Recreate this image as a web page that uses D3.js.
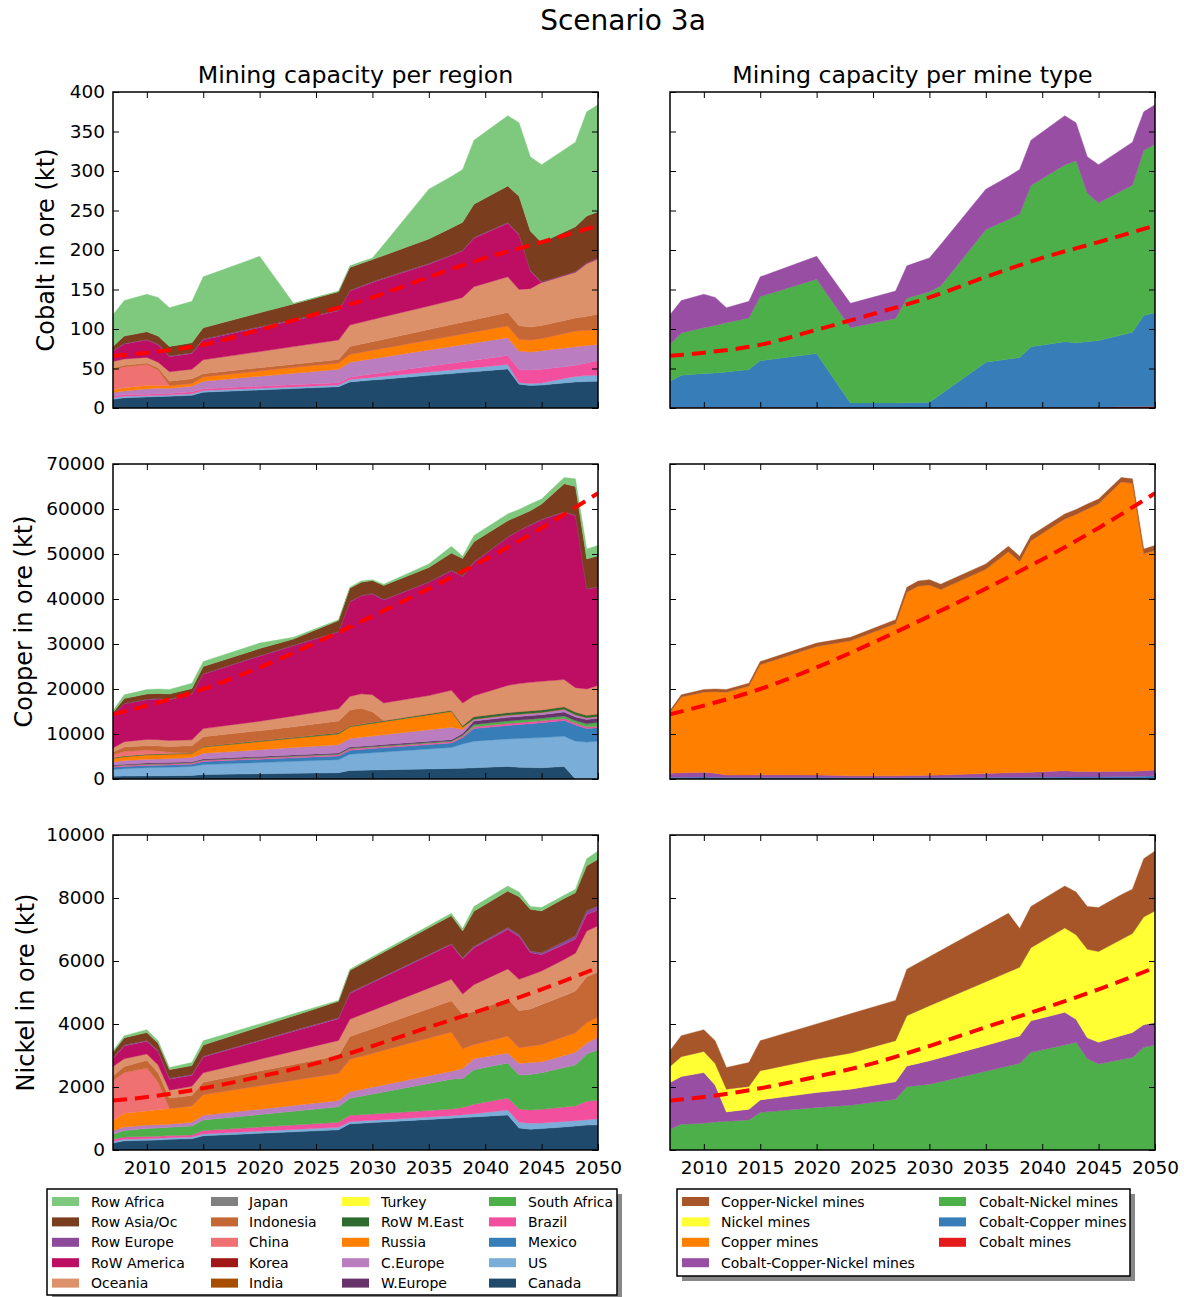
<!DOCTYPE html>
<html>
<head>
<meta charset="utf-8">
<script src="https://cdn.jsdelivr.net/npm/d3@7"></script>
<style>
  body { margin: 0; background: #ffffff; }
  text { font-family: "DejaVu Sans", sans-serif; fill: #000; }
</style>
</head>
<body>
<svg id="chart" width="1184" height="1297"></svg>
<script>
// ---------------------------------------------------------------
// Data: mining capacity (kt of metal in ore), scenario 3a
// ---------------------------------------------------------------
const years = [2007, 2008, 2010, 2011, 2012, 2014, 2015, 2020, 2023, 2027, 2028, 2029, 2030,
               2031, 2035, 2037, 2038, 2039, 2042, 2043, 2044, 2045, 2047, 2048, 2049, 2050];

// Stacking order, bottom to top
const regions = ["Canada", "US", "Mexico", "Brazil", "South Africa", "W.Europe", "C.Europe", "Russia",
                 "RoW M.East", "Turkey", "India", "Korea", "China", "Indonesia", "Japan", "Oceania",
                 "RoW America", "Row Europe", "Row Asia/Oc", "Row Africa"];
const regionColors = ["#204a6b", "#7aaed8", "#377eb8", "#f24f9f", "#4daf4a", "#66336a", "#b97dc0", "#ff7f00",
                      "#2f6b30", "#ffff33", "#a64d00", "#a11616", "#ef7171", "#c66835", "#808080", "#dc916a",
                      "#be0e63", "#8e4a9a", "#7a3d1e", "#7fc97f"];

const mineTypes = ["Cobalt mines", "Cobalt-Copper mines", "Cobalt-Nickel mines", "Cobalt-Copper-Nickel mines",
                   "Copper mines", "Nickel mines", "Copper-Nickel mines"];
const mineColors = ["#e41a1c", "#377eb8", "#4daf4a", "#984ea3", "#ff7f00", "#ffff33", "#a65628"];

// Cobalt, per region
const cobaltCanada      = [11, 13, 14, 14.5, 15, 16, 20, 22.9, 24.7, 27, 33, 34.2, 35.4, 36.5, 41.3, 43.6, 44.8, 46, 49.5, 30, 28.5, 29, 31.7, 33, 33.5, 34];
const cobaltUS          = [2, 2, 1.5, 1.5, 1.5, 2, 2, 2, 2, 2, 3, 3.2, 3.3, 3.6, 4.2, 4.6, 4.8, 4.9, 5.5, 2, 2.5, 2.5, 5.5, 7, 7.5, 7.5];
const cobaltBrazil      = [2, 2, 2, 2, 2, 2.5, 2.5, 2.7, 2.8, 3, 3, 3.6, 4.2, 4.8, 7.2, 8.5, 9, 9.7, 11.5, 16.7, 17, 17.5, 15.1, 14, 16, 18.5];
const cobaltCEurope     = [4.5, 4.5, 7, 7, 6.5, 7, 9.5, 12.7, 14.5, 17, 19, 19.2, 19.5, 19.7, 20.8, 21.2, 21.5, 21.8, 22.5, 23.3, 23, 23.5, 23.5, 23.5, 22, 20.5];
const cobaltRussia      = [3.5, 4, 4, 3.5, 3.5, 3.5, 5.5, 6.7, 7.5, 8, 10, 10.4, 10.7, 11.1, 12.5, 13.2, 13.6, 13.9, 15, 15, 15, 15.5, 18.5, 20, 19.5, 19.1];
const cobaltChina       = [25.5, 26.5, 26.5, 19.5, 0, 0, 0, 0, 0, 0, 0, 0, 0, 0, 0, 0, 0, 0, 0, 0, 0, 0, 0, 0, 0, 0];
const cobaltIndonesia   = [2, 2, 2, 3, 5.5, 6, 4, 4, 4, 4.5, 10, 10.4, 10.9, 11.3, 13.5, 14.5, 15, 15.5, 17, 17, 16.5, 16.5, 16.5, 16.5, 17.5, 19];
const cobaltOceania     = [8.5, 8, 7, 7, 12, 12, 17.5, 20.4, 22.2, 24.5, 27, 27.5, 28, 28.5, 29.5, 30.4, 31.3, 41.8, 45, 46, 48.5, 54.5, 56.9, 58, 67, 70.4];
const cobaltRoWAmerica  = [13, 19, 22, 22, 19, 20, 25.5, 30.6, 33.1, 37, 43, 45, 47, 48.1, 53, 57, 59, 61.4, 68, 69, 22.5, 0, 0, 0, 0, 0];
const cobaltRowEurope   = [0.8, 0.8, 0.8, 0.8, 0.8, 0.8, 0.8, 0.8, 0.8, 0.8, 0.8, 0.8, 0.8, 0.8, 0.8, 0.8, 0.8, 0.8, 0.8, 0.8, 0.8, 0.8, 0.8, 0.8, 0.8, 0.8];
const cobaltRowAsia     = [5.2, 9.2, 9.7, 10.2, 12.2, 12.7, 14.2, 17.7, 20.2, 23.2, 29.2, 28.7, 28.2, 28.6, 31.2, 34.2, 35.2, 42.2, 46.2, 48.2, 49.7, 49.7, 54.3, 56.6, 59.2, 58.7];
const cobaltRowAfrica   = [40, 45, 47.5, 49, 49, 52.5, 64.5, 71.5, 0.7, 1, 2, 2, 2, 14, 63, 65, 67, 81, 89, 93, 94, 98.5, 104.2, 107.1, 132, 135.5];

// Cobalt, per mine type
const cobaltMinesCo     = [1, 1, 1, 1, 1, 1, 1, 1, 0.3, 0.3, 0.3, 0.3, 0.3, 0.5, 1, 1, 1, 1, 1, 1, 1, 1, 1.5, 1.5, 2, 2];
const cobaltMinesCoCu   = [33, 40.5, 42.6, 43.4, 44.7, 47.7, 59, 68, 6, 6, 6.5, 6.7, 6.9, 16.9, 57, 61, 63, 76.5, 83, 81.5, 83, 84.5, 91, 94.5, 115, 118.6];
const cobaltMinesCoNi   = [46.4, 53.5, 58, 60.1, 62.3, 65.3, 81, 94, 95.3, 107.1, 132.2, 136, 139.8, 137.1, 167.6, 176.7, 181.5, 204, 223.7, 230.5, 187.7, 174, 182.2, 186, 209, 213.4];
const cobaltMinesCoCuNi = [37.6, 41, 42.4, 35.5, 19, 21, 25, 29, 30.9, 34.6, 41, 42, 43, 52.5, 51.4, 54.3, 56.5, 57.5, 62.3, 48, 46.3, 48.5, 52.3, 54.5, 49, 50];

// Copper, per region
const copperCanada      = [600, 650, 700, 720, 740, 780, 1000, 1170, 1270, 1400, 1900, 1950, 2000, 2050, 2250, 2350, 2400, 2500, 2800, 2600, 2550, 2500, 2800, 0, 0, 0];
const copperUS          = [1500, 1650, 1800, 1830, 1860, 2020, 2200, 2490, 2660, 2900, 3600, 3720, 3830, 3950, 4420, 4650, 5400, 5900, 6100, 6400, 6550, 6700, 6700, 8400, 8200, 8400];
const copperMexico      = [500, 500, 500, 500, 500, 500, 700, 740, 770, 800, 900, 910, 930, 930, 970, 1000, 1400, 2800, 3000, 3100, 3200, 3300, 3500, 3600, 3000, 3000];
const copperBrazil      = [250, 250, 250, 250, 250, 250, 250, 270, 280, 300, 300, 300, 300, 300, 300, 300, 300, 400, 450, 450, 450, 450, 450, 450, 400, 300];
const copperSouthAfrica = [100, 100, 100, 100, 100, 100, 100, 120, 140, 150, 150, 150, 150, 150, 150, 150, 200, 500, 550, 550, 550, 550, 550, 550, 700, 900];
const copperWEurope     = [150, 150, 200, 200, 200, 200, 200, 220, 230, 250, 250, 250, 260, 270, 290, 300, 400, 800, 800, 800, 800, 800, 900, 800, 900, 900];
const copperCEurope     = [700, 800, 850, 850, 900, 950, 1300, 1510, 1630, 1800, 1900, 2000, 2090, 2180, 2560, 2750, 900, 400, 500, 500, 500, 500, 600, 500, 400, 400];
const copperRussia      = [750, 850, 950, 950, 950, 850, 1350, 1790, 2050, 2400, 2600, 2700, 2800, 2900, 3300, 3500, 500, 0, 0, 0, 0, 0, 0, 0, 0, 0];
const copperMEast       = [150, 150, 150, 150, 150, 150, 200, 240, 270, 300, 250, 250, 260, 270, 290, 300, 400, 600, 600, 600, 600, 600, 600, 600, 600, 600];
const copperChina       = [700, 1000, 900, 700, 300, 0, 0, 0, 0, 0, 0, 0, 0, 0, 0, 0, 0, 0, 0, 0, 0, 0, 0, 0, 0, 0];
const copperIndonesia   = [600, 1000, 1000, 1100, 1300, 1600, 2100, 2200, 2300, 2600, 3500, 3500, 2300, 0, 0, 0, 0, 0, 0, 0, 0, 0, 0, 0, 0, 0];
const copperOceania     = [900, 1200, 1400, 1400, 1300, 1300, 1800, 2100, 2400, 2700, 3000, 3200, 3800, 3900, 4000, 4400, 5000, 4600, 6000, 6200, 6300, 6300, 6000, 5400, 5800, 6300];
const copperRoWAmerica  = [7200, 8400, 8800, 9050, 9050, 10200, 12100, 14450, 15600, 17100, 20950, 21770, 22380, 22900, 25170, 26600, 28100, 29600, 32900, 34000, 34900, 35900, 37200, 38200, 22200, 21800];
const copperRowEurope   = [100, 100, 100, 100, 100, 100, 100, 100, 100, 100, 100, 100, 100, 100, 100, 100, 100, 100, 100, 100, 100, 100, 100, 100, 100, 100];
const copperRowAsia     = [600, 1100, 1200, 1100, 1200, 1100, 1600, 1600, 1400, 2400, 3000, 2900, 2900, 3100, 3200, 3800, 3900, 4500, 3600, 3200, 3100, 3400, 6200, 6400, 6600, 6900];
const copperRowAfrica   = [400, 800, 1000, 1000, 1000, 1200, 1100, 1200, 400, 200, 200, 300, 200, 300, 800, 1500, 500, 1400, 1500, 1400, 1500, 1100, 1400, 1700, 2200, 2300];

// Copper, per mine type
const copperMinesCoCu   = [400, 400, 450, 400, 350, 350, 350, 350, 300, 300, 350, 350, 350, 350, 400, 400, 400, 400, 450, 450, 450, 450, 500, 500, 600, 700];
const copperMinesCoCuNi = [900, 1000, 1050, 900, 550, 550, 600, 550, 400, 400, 450, 450, 500, 550, 800, 1000, 1050, 1100, 1400, 1200, 1200, 1200, 1250, 1250, 1250, 1300];
const copperMinesCu     = [13500, 16800, 17800, 18100, 18400, 19750, 24450, 28550, 30000, 33800, 40700, 42050, 42250, 41200, 45400, 49100, 46850, 51450, 55950, 57150, 58350, 59500, 64250, 63950, 48250, 48800];
const copperMinesCuNi   = [400, 500, 600, 600, 600, 650, 700, 750, 800, 900, 1100, 1150, 1200, 1200, 1200, 1200, 1200, 1150, 1100, 1100, 1100, 1050, 1000, 1000, 1000, 1100];

// Nickel, per region
const nickelCanada      = [220, 290, 310, 320, 340, 360, 450, 529, 577, 640, 830, 850, 870, 890, 970, 1010, 1030, 1050, 1110, 700, 660, 680, 733, 760, 790, 800];
const nickelUS          = [50, 50, 50, 50, 50, 50, 60, 69, 73, 80, 70, 71, 72, 73, 78, 80, 90, 100, 160, 180, 190, 180, 174, 170, 170, 190];
const nickelBrazil      = [70, 70, 70, 70, 70, 70, 110, 130, 143, 160, 200, 201, 202, 204, 208, 210, 230, 300, 380, 420, 420, 430, 456, 470, 590, 590];
const nickelSouthAfrica = [160, 210, 250, 260, 260, 280, 330, 397, 437, 490, 540, 586, 632, 676, 858, 950, 920, 1100, 1110, 1080, 1130, 1160, 1254, 1300, 1500, 1600];
const nickelCEurope     = [110, 110, 110, 100, 100, 120, 150, 171, 183, 200, 210, 214, 218, 224, 242, 250, 320, 350, 320, 370, 380, 350, 383, 400, 350, 400];
const nickelRussia      = [320, 440, 450, 480, 500, 520, 660, 747, 800, 870, 1030, 1055, 1079, 1103, 1201, 1250, 630, 450, 540, 500, 520, 550, 600, 620, 650, 650];
const nickelChina       = [1270, 1280, 1360, 870, 0, 0, 0, 0, 0, 0, 0, 0, 0, 0, 0, 0, 0, 0, 0, 0, 0, 0, 0, 0, 0, 0];
const nickelIndonesia   = [150, 200, 250, 300, 330, 330, 390, 461, 504, 560, 720, 750, 780, 810, 930, 990, 1080, 1050, 1180, 1170, 1180, 1270, 1300, 1330, 1450, 1420];
const nickelOceania     = [300, 250, 200, 250, 250, 290, 300, 375, 420, 480, 550, 564, 579, 593, 651, 680, 650, 850, 950, 1000, 1070, 1060, 1150, 1200, 1450, 1470];
const nickelRoWAmerica  = [250, 400, 400, 430, 350, 350, 500, 579, 626, 690, 820, 851, 882, 914, 1038, 1100, 1110, 1170, 1250, 1360, 710, 520, 470, 450, 530, 500];
const nickelRowEurope   = [30, 30, 30, 30, 30, 30, 30, 30, 30, 30, 30, 30, 30, 30, 30, 30, 40, 40, 60, 60, 60, 60, 100, 100, 120, 130];
const nickelRowAsia     = [170, 230, 250, 230, 270, 280, 350, 421, 464, 520, 700, 721, 743, 763, 847, 890, 850, 1120, 1160, 1200, 1320, 1330, 1367, 1370, 1420, 1480];
const nickelRowAfrica   = [50, 70, 90, 80, 70, 100, 140, 94, 66, 30, 40, 44, 47, 52, 68, 75, 80, 150, 160, 150, 90, 110, 100, 110, 230, 260];

// Nickel, per mine type
const nickelMinesCoNi   = [660, 820, 850, 890, 910, 955, 1190, 1350, 1420, 1610, 2005, 2050, 2090, 2170, 2500, 2670, 2750, 3100, 3330, 3420, 2900, 2730, 2870, 2940, 3260, 3330];
const nickelMinesCoCuNi = [1480, 1510, 1610, 1170, 300, 335, 400, 475, 510, 555, 665, 700, 740, 760, 820, 850, 870, 1000, 1040, 730, 660, 690, 760, 790, 720, 720];
const nickelMinesNi     = [510, 630, 670, 690, 720, 725, 925, 1060, 1145, 1305, 1595, 1670, 1750, 1800, 2020, 2130, 2180, 2320, 2680, 2680, 2810, 2880, 3050, 3140, 3420, 3540];
const nickelMinesCuNi   = [500, 670, 690, 720, 690, 765, 955, 1118, 1248, 1280, 1475, 1517, 1554, 1602, 1781, 1865, 1230, 1310, 1330, 1360, 1360, 1400, 1420, 1410, 1850, 1900];

// Demand curves (red dashed)
const demandYears   = [2007, 2010, 2015, 2020, 2025, 2030, 2035, 2040, 2045, 2050];
const cobaltDemand  = [66, 70, 80, 99, 119, 140, 166, 190, 210, 231];
const copperDemand  = [14400, 16300, 20000, 24800, 30300, 36200, 42300, 48800, 55800, 63500];
const nickelDemand  = [1570, 1680, 1960, 2330, 2750, 3300, 3900, 4480, 5100, 5790];

// Axis ticks
const xTickYears   = [2010, 2015, 2020, 2025, 2030, 2035, 2040, 2045, 2050];
const cobaltTicks  = [0, 50, 100, 150, 200, 250, 300, 350, 400];
const copperTicks  = [0, 10000, 20000, 30000, 40000, 50000, 60000, 70000];
const nickelTicks  = [0, 2000, 4000, 6000, 8000, 10000];

// ---------------------------------------------------------------
// Series lists (stack order, bottom to top)
// ---------------------------------------------------------------
const cobaltRegionSeries = [
  ["Canada", cobaltCanada], ["US", cobaltUS], ["Brazil", cobaltBrazil], ["C.Europe", cobaltCEurope],
  ["Russia", cobaltRussia], ["China", cobaltChina], ["Indonesia", cobaltIndonesia], ["Oceania", cobaltOceania],
  ["RoW America", cobaltRoWAmerica], ["Row Europe", cobaltRowEurope], ["Row Asia/Oc", cobaltRowAsia],
  ["Row Africa", cobaltRowAfrica]];
const cobaltMineSeries = [
  ["Cobalt mines", cobaltMinesCo], ["Cobalt-Copper mines", cobaltMinesCoCu],
  ["Cobalt-Nickel mines", cobaltMinesCoNi], ["Cobalt-Copper-Nickel mines", cobaltMinesCoCuNi]];

const copperRegionSeries = [
  ["Canada", copperCanada], ["US", copperUS], ["Mexico", copperMexico], ["Brazil", copperBrazil],
  ["South Africa", copperSouthAfrica], ["W.Europe", copperWEurope], ["C.Europe", copperCEurope],
  ["Russia", copperRussia], ["RoW M.East", copperMEast], ["China", copperChina], ["Indonesia", copperIndonesia],
  ["Oceania", copperOceania], ["RoW America", copperRoWAmerica], ["Row Europe", copperRowEurope],
  ["Row Asia/Oc", copperRowAsia], ["Row Africa", copperRowAfrica]];
const copperMineSeries = [
  ["Cobalt-Copper mines", copperMinesCoCu], ["Cobalt-Copper-Nickel mines", copperMinesCoCuNi],
  ["Copper mines", copperMinesCu], ["Copper-Nickel mines", copperMinesCuNi]];

const nickelRegionSeries = [
  ["Canada", nickelCanada], ["US", nickelUS], ["Brazil", nickelBrazil], ["South Africa", nickelSouthAfrica],
  ["C.Europe", nickelCEurope], ["Russia", nickelRussia], ["China", nickelChina], ["Indonesia", nickelIndonesia],
  ["Oceania", nickelOceania], ["RoW America", nickelRoWAmerica], ["Row Europe", nickelRowEurope],
  ["Row Asia/Oc", nickelRowAsia], ["Row Africa", nickelRowAfrica]];
const nickelMineSeries = [
  ["Cobalt-Nickel mines", nickelMinesCoNi], ["Cobalt-Copper-Nickel mines", nickelMinesCoCuNi],
  ["Nickel mines", nickelMinesNi], ["Copper-Nickel mines", nickelMinesCuNi]];

// ---------------------------------------------------------------
// Layout
// ---------------------------------------------------------------
const svg = d3.select("#chart");
const colorOf = {};
regions.forEach((r, i) => colorOf[r] = regionColors[i]);
mineTypes.forEach((m, i) => colorOf[m] = mineColors[i]);

const colLeft  = [113, 598];
const colRight = [670, 1155];
const rowBands = [[92, 408], [464, 779], [835, 1150]];

svg.append("text").attr("x", 623).attr("y", 30).attr("text-anchor", "middle")
   .style("font-size", "28px").text("Scenario 3a");
svg.append("text").attr("x", 355.5).attr("y", 83).attr("text-anchor", "middle")
   .style("font-size", "23.7px").text("Mining capacity per region");
svg.append("text").attr("x", 912.5).attr("y", 83).attr("text-anchor", "middle")
   .style("font-size", "23.7px").text("Mining capacity per mine type");

let clipId = 0;
function drawPanel(cfg) {
  const [x0, x1] = cfg.cols;
  const [yTop, yBot] = cfg.band;
  const x = d3.scaleLinear().domain([2007, 2050]).range([x0, x1]);
  const y = d3.scaleLinear().domain([0, cfg.yMax]).range([yBot, yTop]);
  const g = svg.append("g");

  const id = "clip" + (clipId++);
  svg.append("clipPath").attr("id", id).append("rect")
     .attr("x", x0).attr("y", yTop).attr("width", x1 - x0).attr("height", yBot - yTop);

  const keys = cfg.series.map(s => s[0]);
  const rows = years.map((yr, i) => {
    const r = { year: yr };
    cfg.series.forEach(([k, v]) => r[k] = v[i]);
    return r;
  });
  const stacked = d3.stack().keys(keys)(rows);
  const area = d3.area()
    .x(d => x(d.data.year))
    .y0(d => y(d[0]))
    .y1(d => y(d[1]));

  const plot = g.append("g").attr("clip-path", `url(#${id})`);
  plot.selectAll("path.layer").data(stacked).join("path")
    .attr("class", "layer")
    .attr("d", area)
    .attr("fill", d => colorOf[d.key])
    .attr("stroke", d => colorOf[d.key])
    .attr("stroke-width", 0.4);

  const line = d3.line().x((d, i) => x(demandYears[i])).y(d => y(d)).curve(d3.curveMonotoneX);
  plot.append("path").datum(cfg.demand)
    .attr("d", line).attr("fill", "none")
    .attr("stroke", "#ff0000").attr("stroke-width", 4)
    .attr("stroke-dasharray", "14,8");

  // axes with inward ticks on all four sides
  const fmt = d3.format("d");
  const bottom = d3.axisBottom(x).tickValues(xTickYears).tickSizeInner(-6).tickSizeOuter(0).tickPadding(11)
    .tickFormat(cfg.xLabels ? fmt : () => "");
  const top = d3.axisTop(x).tickValues(xTickYears).tickSizeInner(-6).tickSizeOuter(0).tickFormat(() => "");
  const left = d3.axisLeft(y).tickValues(cfg.yTicks).tickSizeInner(-6).tickSizeOuter(0).tickPadding(8)
    .tickFormat(cfg.yLabels ? fmt : () => "");
  const right = d3.axisRight(y).tickValues(cfg.yTicks).tickSizeInner(-6).tickSizeOuter(0).tickFormat(() => "");

  const axes = [
    g.append("g").attr("transform", `translate(0,${yBot})`).call(bottom),
    g.append("g").attr("transform", `translate(0,${yTop})`).call(top),
    g.append("g").attr("transform", `translate(${x0},0)`).call(left),
    g.append("g").attr("transform", `translate(${x1},0)`).call(right)
  ];
  axes.forEach(a => {
    a.select(".domain").remove();
    a.selectAll(".tick line").attr("stroke", "#000").attr("stroke-width", 1);
    a.selectAll(".tick text").style("font-size", "18.5px").attr("fill", "#000")
      .style("font-family", "'DejaVu Sans', sans-serif");
  });

  g.append("rect").attr("x", x0).attr("y", yTop).attr("width", x1 - x0).attr("height", yBot - yTop)
    .attr("fill", "none").attr("stroke", "#000").attr("stroke-width", 1.5);

  if (cfg.ylabel) {
    const cy = (yTop + yBot) / 2;
    g.append("text").attr("transform", `translate(${cfg.ylabelX},${cy}) rotate(-90)`)
      .attr("text-anchor", "middle").attr("dy", "0.35em")
      .style("font-size", "24px").text(cfg.ylabel);
  }
}

const metals = [
  { name: "Cobalt in ore (kt)", yMax: 400, ticks: cobaltTicks, regionS: cobaltRegionSeries, mineS: cobaltMineSeries, demand: cobaltDemand, lx: 46 },
  { name: "Copper in ore (kt)", yMax: 70000, ticks: copperTicks, regionS: copperRegionSeries, mineS: copperMineSeries, demand: copperDemand, lx: 24 },
  { name: "Nickel in ore (kt)", yMax: 10000, ticks: nickelTicks, regionS: nickelRegionSeries, mineS: nickelMineSeries, demand: nickelDemand, lx: 26 }
];

metals.forEach((m, i) => {
  const last = i === metals.length - 1;
  drawPanel({ cols: colLeft, band: rowBands[i], yMax: m.yMax, yTicks: m.ticks, series: m.regionS,
              demand: m.demand, xLabels: last, yLabels: true, ylabel: m.name, ylabelX: m.lx });
  drawPanel({ cols: colRight, band: rowBands[i], yMax: m.yMax, yTicks: m.ticks, series: m.mineS,
              demand: m.demand, xLabels: last, yLabels: false });
});

// ---------------------------------------------------------------
// Legends
// ---------------------------------------------------------------
function drawLegend(cfg) {
  const g = svg.append("g");
  g.append("rect").attr("x", cfg.x + 5).attr("y", cfg.y + 5).attr("width", cfg.w).attr("height", cfg.h)
    .attr("fill", "#888888");
  g.append("rect").attr("x", cfg.x).attr("y", cfg.y).attr("width", cfg.w).attr("height", cfg.h)
    .attr("fill", "#ffffff").attr("stroke", "#000").attr("stroke-width", 1.5);
  cfg.items.forEach((name, k) => {
    const col = Math.floor(k / cfg.perCol), row = k % cfg.perCol;
    const cy = cfg.y + 12.5 + row * 20.4;
    g.append("rect").attr("x", cfg.swatchX[col]).attr("y", cy - 4.5).attr("width", 27).attr("height", 9)
      .attr("fill", colorOf[name]);
    g.append("text").attr("x", cfg.textX[col]).attr("y", cy).attr("dy", "0.36em")
      .style("font-size", "14px").text(name);
  });
}

drawLegend({ x: 47, y: 1189, w: 570, h: 106, perCol: 5, items: regions.slice().reverse(),
             swatchX: [52, 211, 342, 489], textX: [91, 249, 381, 528] });
drawLegend({ x: 677, y: 1189, w: 453, h: 87, perCol: 4, items: mineTypes.slice().reverse(),
             swatchX: [682, 939], textX: [721, 979] });
</script>
</body>
</html>
